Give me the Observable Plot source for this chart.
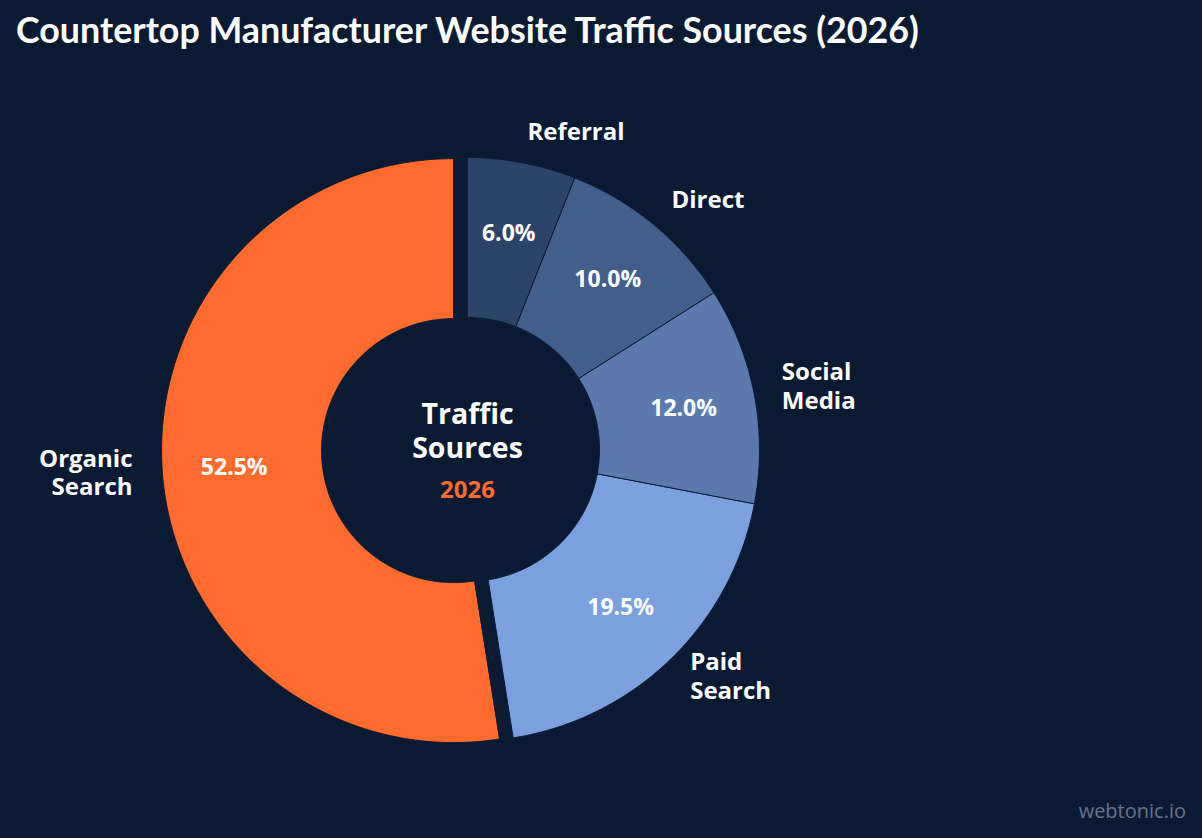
<!DOCTYPE html>
<html><head><meta charset="utf-8">
<script src="https://cdn.jsdelivr.net/npm/d3@7"></script>
<script src="https://cdn.jsdelivr.net/npm/@observablehq/plot@0.6"></script>
<style>
html,body{margin:0;padding:0;background:#0b1a33;}
#wrap{position:relative;width:1202px;height:838px;overflow:hidden;background:#0b1a33;}
#title{height:70px;box-sizing:border-box;padding:12px 0 0 16px;font-family:Lato,sans-serif;font-weight:700;font-size:35.8px;line-height:36px;color:#ffffff;white-space:nowrap;}
#credit{position:absolute;right:16px;bottom:14px;font-family:"Open Sans",sans-serif;font-size:20px;color:#66758f;}
</style></head>
<body>
<div id="wrap">
  <div id="title">Countertop Manufacturer Website Traffic Sources (2026)</div>
  <div id="chart"></div>
  <div id="credit">webtonic.io</div>
</div>
<script>
// ---- data ----
const categories = ["Referral", "Direct", "Social Media", "Paid Search", "Organic Search"];
const shares = [6.0, 10.0, 12.0, 19.5, 52.5];
const colors = ["#2c4467", "#425f8a", "#5a7aad", "#7aa1dd", "#ff6b2c"];
const explodedCategory = "Organic Search";
const centerTitle = ["Traffic", "Sources"];
const centerYear = ["2026"];

// ---- layout ----
const W = 1202, H = 768;
const CX = 467, CY = 379;
const R_OUT = 292, R_IN = 132, EXPLODE = 14, R_PCT = 220, R_LBL = 320;
const BG = "#0b1a33";

const rows = categories.map((c, i) => ({category: c, share: shares[i]}));
const arcs = d3.pie().sort(null).value(d => d.share)(rows);
const slices = arcs.map(a => {
  const mid = (a.startAngle + a.endAngle) / 2;
  const off = a.data.category === explodedCategory ? EXPLODE : 0;
  return {...a.data, a0: a.startAngle, a1: a.endAngle, mid,
          ox: off * Math.sin(mid), oy: -off * Math.cos(mid)};
});

const polyPts = slices.flatMap(s => {
  const n = Math.max(2, Math.ceil((s.a1 - s.a0) / (Math.PI / 360)));
  const pts = [];
  for (let k = 0; k <= n; k++) {
    const a = s.a0 + (s.a1 - s.a0) * k / n;
    pts.push({category: s.category, x: s.ox + R_OUT * Math.sin(a), y: s.oy - R_OUT * Math.cos(a)});
  }
  for (let k = n; k >= 0; k--) {
    const a = s.a0 + (s.a1 - s.a0) * k / n;
    pts.push({category: s.category, x: s.ox + R_IN * Math.sin(a), y: s.oy - R_IN * Math.cos(a)});
  }
  return pts;
});

const pos = (s, r) => ({x: s.ox + r * Math.sin(s.mid), y: s.oy - r * Math.cos(s.mid)});
const labels = slices.map(s => ({...pos(s, R_LBL), text: s.category.split(" ").join("\n"), right: Math.sin(s.mid) >= 0}));
const pcts = slices.map(s => ({...pos(s, R_PCT), text: d3.format(".1f")(s.share) + "%"}));

const font = "'Open Sans', 'Noto Sans', sans-serif";

const chart = Plot.plot({
  width: W, height: H,
  margin: 0,
  style: {background: "transparent", color: "#ffffff", fontFamily: font},
  x: {type: "linear", domain: [-CX, W - CX], range: [0, W], axis: null},
  y: {type: "linear", domain: [-CY, H - CY], range: [0, H], axis: null},
  color: {domain: categories, range: colors},
  marks: [
    Plot.line(polyPts, {x: "x", y: "y", z: "category", fill: "category", stroke: BG, strokeWidth: 1, curve: "linear-closed"}),
    Plot.text(pcts, {x: "x", y: "y", text: "text", fill: "#ffffff", fontSize: 23, fontWeight: 700, fontFamily: font}),
    Plot.text(labels.filter(d => d.right), {x: "x", y: "y", text: "text", dy: -4, textAnchor: "start", lineHeight: 1.2, fill: "#ffffff", fontSize: 24, fontWeight: 700, fontFamily: font}),
    Plot.text(labels.filter(d => !d.right), {x: "x", y: "y", text: "text", dy: -4, dx: -2, textAnchor: "end", lineHeight: 1.2, fill: "#ffffff", fontSize: 24, fontWeight: 700, fontFamily: font}),
    Plot.text([centerTitle[0]], {x: [0], y: [0], text: d => d, dy: -35, fill: "#ffffff", fontSize: 28.5, fontWeight: 700, fontFamily: font}),
    Plot.text([centerTitle[1]], {x: [0], y: [0], text: d => d, dy: -1, fill: "#ffffff", fontSize: 28.5, fontWeight: 700, fontFamily: font}),
    Plot.text(centerYear, {x: [0], y: [0], text: d => d, dy: 41, fill: "#ff6b2c", fontSize: 24, fontWeight: 700, fontFamily: font})
  ]
});
document.getElementById("chart").appendChild(chart);
</script>
</body></html>
